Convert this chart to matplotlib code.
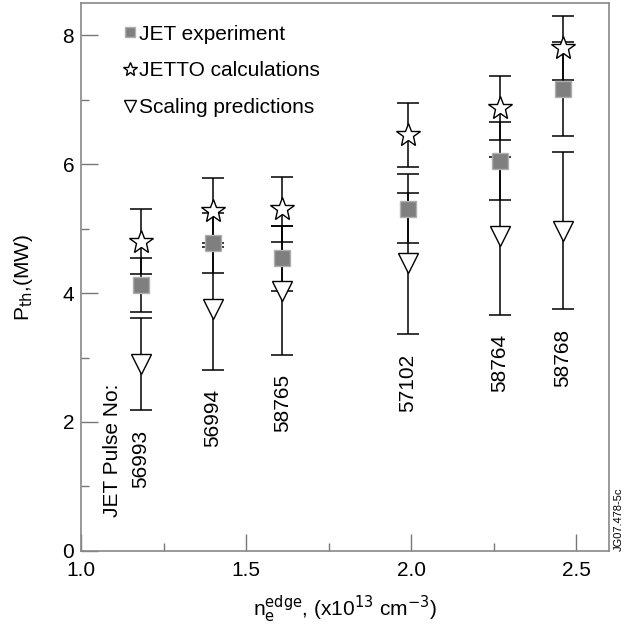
import matplotlib
matplotlib.use('Agg')
import matplotlib.pyplot as plt

plt.rcParams['font.family'] = ['Liberation Sans', 'DejaVu Sans']

# density at the edge (x10^13 cm^-3)
ne_edge = [1.18, 1.40, 1.61, 1.99, 2.27, 2.46]
pulses = ['56993', '56994', '58765', '57102', '58764', '58768']

jet_exp = [4.13, 4.78, 4.54, 5.31, 6.05, 7.17]
jet_err = [0.42, 0.47, 0.50, 0.54, 0.60, 0.73]

jetto = [4.80, 5.28, 5.30, 6.45, 6.87, 7.80]
jetto_err = [0.50, 0.50, 0.50, 0.50, 0.50, 0.50]

scaling = [2.90, 3.76, 4.04, 4.46, 4.89, 4.97]
scaling_err = [0.72, 0.95, 1.00, 1.10, 1.23, 1.22]

fig = plt.figure(figsize=(6.24, 6.26), dpi=100)
ax = fig.add_axes([0.13, 0.12, 0.846, 0.875])

ebkw = dict(fmt='none', ecolor='black', elinewidth=1.1, capsize=8, capthick=1.1)
ax.errorbar(ne_edge, scaling, yerr=scaling_err, **ebkw)
ax.errorbar(ne_edge, jet_exp, yerr=jet_err, **ebkw)
ax.errorbar(ne_edge, jetto, yerr=jetto_err, **ebkw)

h1, = ax.plot(ne_edge, jet_exp, 's', ms=11.5, mfc='#7f7f7f', mec='#b0b0b0', mew=1.0,
              ls='none', label='JET experiment', zorder=4)
h2, = ax.plot(ne_edge, jetto, '*', ms=18, mfc='white', mec='black', mew=1.0,
              ls='none', label='JETTO calculations', zorder=4)
h3, = ax.plot(ne_edge, scaling, 'v', ms=14, mfc='white', mec='black', mew=1.0,
              ls='none', label='Scaling predictions', zorder=4)

# pulse number labels under each point
for x, s, e, p in zip(ne_edge, scaling, scaling_err, pulses):
    ax.text(x, s - e - 0.3, p, rotation=90, ha='center', va='top', fontsize=15)
ax.text(1.095, 2.6, 'JET Pulse No:', rotation=90, ha='center', va='top', fontsize=15)

ax.set_xlim(1.0, 2.6)
ax.set_ylim(0, 8.5)
ax.set_xticks([1.0, 1.5, 2.0, 2.5])
ax.set_xticks([1.25, 1.75, 2.25], minor=True)
ax.set_yticks([0, 2, 4, 6, 8])
ax.set_yticks([1, 3, 5, 7], minor=True)
ax.set_xticklabels(['1.0', '1.5', '2.0', '2.5'])

ax.tick_params(which='both', direction='in', color='#777777', width=1.0, labelsize=15)
ax.tick_params(which='major', length=12)
ax.tick_params(which='minor', length=6)
ax.tick_params(axis='x', pad=7)
ax.tick_params(axis='y', pad=5)
for sp in ax.spines.values():
    sp.set_color('#888888')
    sp.set_linewidth(1.2)

ax.set_ylabel(r'P$_{\rm th}$,(MW)', fontsize=15, labelpad=20)
ax.set_xlabel(r'n$_{\rm e}^{\rm edge}$, (x10$^{13}$ cm$^{-3}$)', fontsize=15, labelpad=10)

leg = ax.legend(handles=[h1, h2, h3], loc='upper left', bbox_to_anchor=(0.047, 0.995),
                frameon=False, fontsize=15, markerscale=0.6, handlelength=0.5,
                handletextpad=0.2, labelspacing=0.85)

fig.text(0.999, 0.12, 'JG07.478-5c', rotation=90, ha='right', va='bottom', fontsize=8)

fig.savefig('out.png', dpi=100)
